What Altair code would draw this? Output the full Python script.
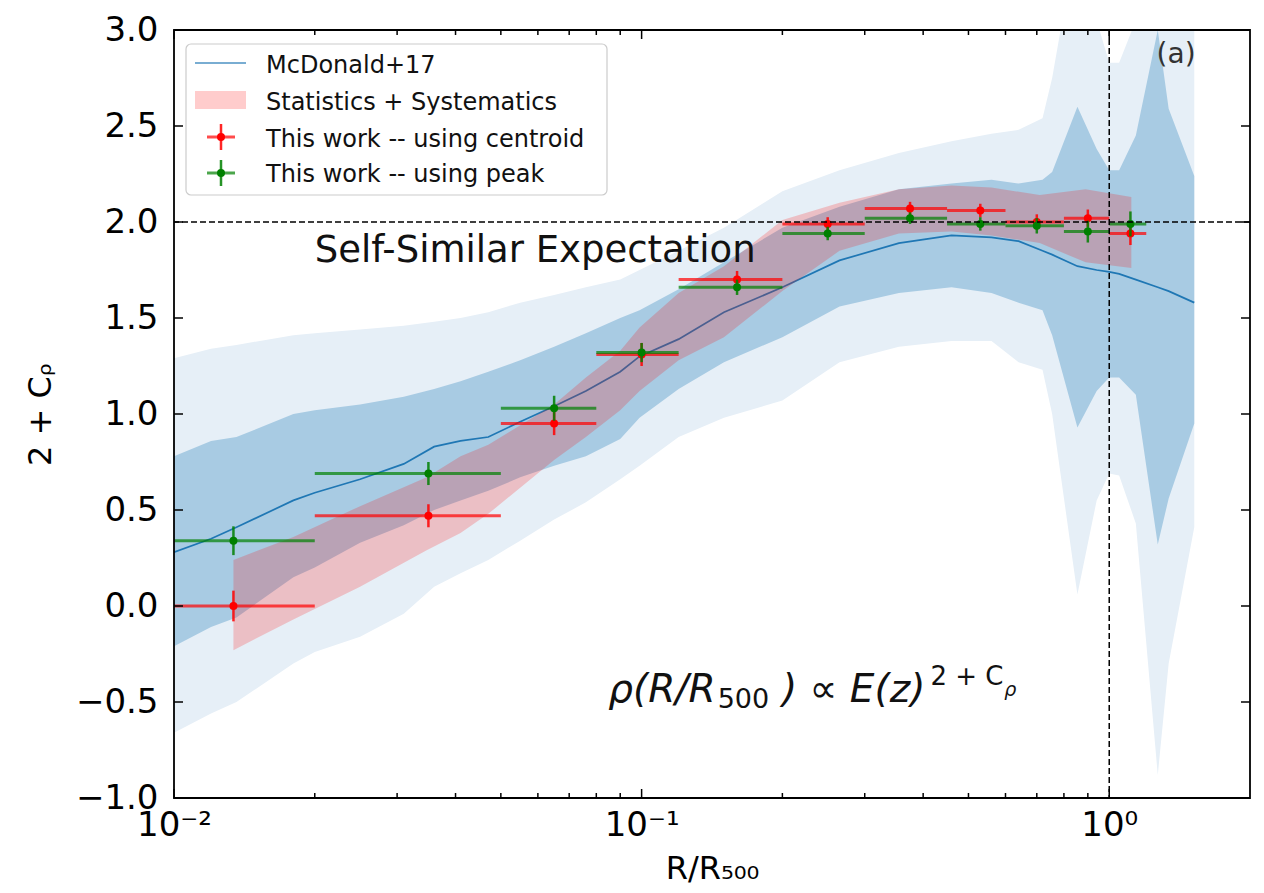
import altair as alt
import pandas as pd

# ---------------- data ----------------
# McDonald+17 model: median and two scatter bands
mc_x = [0.01, 0.012, 0.0136, 0.018, 0.020, 0.025, 0.031, 0.036, 0.041, 0.047, 0.055,
        0.065, 0.076, 0.09, 0.099, 0.12, 0.15, 0.20, 0.265, 0.355, 0.46, 0.56, 0.64,
        0.72, 0.755, 0.855, 0.94, 1.0, 1.05, 1.14, 1.27, 1.34, 1.52]
mc_mid = [0.28, 0.35, 0.41, 0.55, 0.59, 0.66, 0.74, 0.83, 0.86, 0.88, 0.96,
          1.04, 1.12, 1.22, 1.30, 1.39, 1.53, 1.66, 1.80, 1.89, 1.93, 1.92, 1.90,
          1.85, 1.83, 1.77, 1.75, 1.74, 1.73, 1.70, 1.66, 1.64, 1.58]
mc_dark_hi = [0.78, 0.86, 0.88, 1.00, 1.02, 1.05, 1.09, 1.13, 1.17, 1.22, 1.28,
              1.35, 1.42, 1.50, 1.54, 1.65, 1.79, 1.97, 2.08, 2.17, 2.20, 2.22, 2.20,
              2.22, 2.26, 2.60, 2.38, 2.27, 2.27, 2.45, 3.00, 2.59, 2.24]
mc_dark_lo = [-0.21, -0.11, -0.06, 0.15, 0.20, 0.33, 0.42, 0.50, 0.55, 0.60, 0.67,
              0.73, 0.78, 0.87, 0.98, 1.13, 1.27, 1.40, 1.56, 1.63, 1.66, 1.63, 1.58,
              1.54, 1.41, 0.93, 1.12, 1.19, 1.19, 1.10, 0.32, 0.56, 0.95]
mc_light_hi = [1.29, 1.34, 1.36, 1.41, 1.42, 1.44, 1.46, 1.48, 1.50, 1.53, 1.58,
               1.62, 1.66, 1.70, 1.75, 1.85, 1.97, 2.16, 2.27, 2.36, 2.42, 2.46, 2.48,
               2.54, 2.75, 3.50, 3.05, 2.83, 2.83, 3.05, 3.50, 3.50, 3.50]
mc_light_lo = [-0.66, -0.56, -0.50, -0.30, -0.24, -0.16, -0.04, 0.10, 0.17, 0.24, 0.34,
               0.45, 0.54, 0.66, 0.73, 0.88, 0.98, 1.07, 1.27, 1.35, 1.38, 1.38, 1.27,
               1.23, 1.00, 0.06, 0.55, 0.69, 0.68, 0.43, -0.88, -0.30, 0.41]

# Statistics + Systematics band
ss_x = [0.0134, 0.018, 0.025, 0.0347, 0.041, 0.047, 0.065, 0.076, 0.09, 0.099,
        0.12, 0.15, 0.20, 0.265, 0.355, 0.46, 0.56, 0.71, 0.89, 1.115]
ss_hi = [0.24, 0.36, 0.52, 0.67, 0.78, 0.84, 1.05, 1.19, 1.33, 1.45,
         1.63, 1.77, 2.01, 2.10, 2.17, 2.19, 2.18, 2.14, 2.17, 2.13]
ss_lo = [-0.23, -0.07, 0.10, 0.29, 0.38, 0.48, 0.76, 0.88, 1.02, 1.12,
         1.28, 1.40, 1.64, 1.85, 1.94, 1.95, 1.93, 1.89, 1.79, 1.76]

# This work: radial bins
bin_x = [0.0134, 0.035, 0.065, 0.10, 0.16, 0.25, 0.375, 0.53, 0.70, 0.90, 1.11]
bin_lo = [0.01, 0.02, 0.05, 0.08, 0.12, 0.20, 0.30, 0.45, 0.60, 0.80, 1.00]
bin_hi = [0.02, 0.05, 0.08, 0.12, 0.20, 0.30, 0.45, 0.60, 0.80, 1.00, 1.20]
centroid_y = [0.00, 0.47, 0.95, 1.31, 1.70, 1.99, 2.07, 2.06, 2.00, 2.02, 1.94]
centroid_err = [0.08, 0.06, 0.06, 0.06, 0.045, 0.035, 0.035, 0.035, 0.04, 0.045, 0.06]
peak_y = [0.34, 0.69, 1.03, 1.32, 1.66, 1.94, 2.02, 1.99, 1.98, 1.95, 1.99]
peak_err = [0.075, 0.06, 0.065, 0.05, 0.04, 0.035, 0.03, 0.035, 0.04, 0.057, 0.065]

legend_labels = ["McDonald+17", "Statistics + Systematics",
                 "This work -- using centroid", "This work -- using peak"]

x_major = [0.01, 0.1, 1.0]
x_minor = [0.02, 0.03, 0.04, 0.05, 0.06, 0.07, 0.08, 0.09,
           0.2, 0.3, 0.4, 0.5, 0.6, 0.7, 0.8, 0.9]
y_ticks = [-1.0, -0.5, 0.0, 0.5, 1.0, 1.5, 2.0, 2.5, 3.0]

# ---------------- styling ----------------
W, H = 1076, 768
FONT = "DejaVu Sans"
BLUE = "#1f77b4"
LIGHT = "#e6eff7"
DARK = "#a8cbe3"
INK = "#111111"

xs = alt.Scale(type="log", domain=[0.01, 2.0], nice=False)
ys = alt.Scale(domain=[-1.0, 3.0], nice=False, zero=False)


def X(f):
    return alt.X(f"{f}:Q", scale=xs)


def Y(f):
    return alt.Y(f"{f}:Q", scale=ys)


xaxis = alt.Axis(values=x_major,
                 labelExpr="datum.value < 0.05 ? '10\u207b\u00b2' : (datum.value < 0.5 ? '10\u207b\u00b9' : '10\u2070')",
                 ticks=False, domain=False, grid=False,
                 labelFont=FONT, labelFontSize=34, labelColor="black",
                 labelPadding=10, labelFlush=False, labelOverlap=False,
                 title="R/R\u2085\u2080\u2080", titleFont=FONT, titleFontSize=32,
                 titleFontWeight="normal", titleColor="black",
                 titleX=W / 2, titleY=80, titleBaseline="alphabetic", titleAlign="center")
yaxis = alt.Axis(values=y_ticks, format=".1f",
                 ticks=False, domain=False, grid=False,
                 labelFont=FONT, labelFontSize=34, labelColor="black",
                 labelPadding=16, labelOverlap=False,
                 title="2 + C\u1d68", titleFont=FONT, titleFontSize=32,
                 titleFontWeight="normal", titleColor="black",
                 titleX=-134, titleY=H / 2, titleBaseline="middle", titleAlign="center")

mc = pd.DataFrame({"x": mc_x, "mid": mc_mid, "dhi": mc_dark_hi, "dlo": mc_dark_lo,
                   "lhi": mc_light_hi, "llo": mc_light_lo})
ss = pd.DataFrame({"x": ss_x, "hi": ss_hi, "lo": ss_lo})

light = alt.Chart(mc).mark_area(color=LIGHT, clip=True).encode(
    x=alt.X("x:Q", scale=xs, axis=xaxis),
    y=alt.Y("lhi:Q", scale=ys, axis=yaxis),
    y2=alt.Y2("llo:Q"))
dark = alt.Chart(mc).mark_area(color=DARK, clip=True).encode(
    x=X("x"), y=Y("dhi"), y2=alt.Y2("dlo:Q"))
line = alt.Chart(mc).mark_line(color=BLUE, strokeWidth=1.7, clip=True).encode(
    x=X("x"), y=Y("mid"))
band = alt.Chart(ss).mark_area(color="red", opacity=0.2, clip=True).encode(
    x=X("x"), y=Y("hi"), y2=alt.Y2("lo:Q"))

layers = [light, dark, line, band]

for yv, ev, col in [(centroid_y, centroid_err, "red"), (peak_y, peak_err, "green")]:
    df = pd.DataFrame({"x": bin_x, "xlo": bin_lo, "xhi": bin_hi, "y": yv,
                       "ylo": [a - b for a, b in zip(yv, ev)],
                       "yhi": [a + b for a, b in zip(yv, ev)]})
    layers.append(alt.Chart(df).mark_rule(color=col, strokeWidth=3, opacity=0.7, clip=True)
                  .encode(x=X("xlo"), x2=alt.X2("xhi:Q"), y=Y("y")))
    layers.append(alt.Chart(df).mark_rule(color=col, strokeWidth=2.5, opacity=0.85, clip=True)
                  .encode(x=X("x"), y=Y("ylo"), y2=alt.Y2("yhi:Q")))
    layers.append(alt.Chart(df).mark_circle(color=col, size=64, opacity=1, clip=True)
                  .encode(x=X("x"), y=Y("y")))

# reference lines
layers.append(alt.Chart(pd.DataFrame({"y": [2.0]})).mark_rule(
    color="black", strokeWidth=1.5, strokeDash=[6, 3]).encode(y=Y("y")))
layers.append(alt.Chart(pd.DataFrame({"x": [1.0]})).mark_rule(
    color="black", strokeWidth=1.5, strokeDash=[6, 3]).encode(x=X("x")))

# inward ticks
ydf = pd.DataFrame({"v": y_ticks})
layers.append(alt.Chart(ydf).mark_rule(color="black", strokeWidth=1.5).encode(
    y=Y("v"), x=alt.value(0), x2=alt.value(9)))
layers.append(alt.Chart(ydf).mark_rule(color="black", strokeWidth=1.5).encode(
    y=Y("v"), x=alt.value(W - 9), x2=alt.value(W)))
for vals, ln in [(x_major, 9), (x_minor, 5)]:
    xdf = pd.DataFrame({"v": vals})
    layers.append(alt.Chart(xdf).mark_rule(color="black", strokeWidth=1.5).encode(
        x=X("v"), y=alt.value(H - ln), y2=alt.value(H)))
    layers.append(alt.Chart(xdf).mark_rule(color="black", strokeWidth=1.5).encode(
        x=X("v"), y=alt.value(0), y2=alt.value(ln)))

one = pd.DataFrame({"a": [0]})
# frame
layers.append(alt.Chart(one).mark_rect(filled=False, stroke="black", strokeWidth=1.8).encode(
    x=alt.value(0), x2=alt.value(W), y=alt.value(0), y2=alt.value(H)))


def note(x, y, t, size, align="left", style="normal", color=INK):
    d = pd.DataFrame({"x": [x], "y": [y], "t": [t]})
    return alt.Chart(d).mark_text(font=FONT, fontSize=size, align=align, fontStyle=style,
                                  baseline="alphabetic", color=color).encode(
        x=X("x"), y=Y("y"), text="t:N")


# annotations (positions in data units)
layers.append(note(0.02, 1.79, "Self-Similar Expectation", 37))
layers.append(note(0.1439, -0.50, "\u03c1(R/R", 39, align="right", style="italic"))
layers.append(note(0.1454, -0.531, "500", 27))
layers.append(note(0.4044, -0.50, ") \u221d E(z)", 39, align="right", style="italic"))
layers.append(note(0.4145, -0.41, "2 + C", 26))
layers.append(note(0.5965, -0.47, "\u03c1", 19, style="italic"))
layers.append(note(1.39, 2.83, "(a)", 28, align="center", color="#333333"))

# legend (drawn by hand so the error-bar handles match)
layers.append(alt.Chart(one).mark_rect(fill="white", fillOpacity=0.85, stroke="#cccccc",
                                       strokeWidth=1.2, cornerRadius=5).encode(
    x=alt.value(12), x2=alt.value(433), y=alt.value(14), y2=alt.value(165)))
layers.append(alt.Chart(one).mark_rule(color=BLUE, strokeWidth=2, opacity=0.6).encode(
    x=alt.value(21), x2=alt.value(72), y=alt.value(33)))
layers.append(alt.Chart(one).mark_rect(color="red", opacity=0.2).encode(
    x=alt.value(21), x2=alt.value(72), y=alt.value(61), y2=alt.value(79)))
for cy, col in [(107, "red"), (143, "green")]:
    layers.append(alt.Chart(one).mark_rule(color=col, strokeWidth=3, opacity=0.7).encode(
        x=alt.value(33), x2=alt.value(61), y=alt.value(cy)))
    layers.append(alt.Chart(one).mark_rule(color=col, strokeWidth=2.5, opacity=0.85).encode(
        x=alt.value(47), y=alt.value(cy - 13), y2=alt.value(cy + 13)))
    layers.append(alt.Chart(one).mark_circle(color=col, size=64, opacity=1).encode(
        x=alt.value(47), y=alt.value(cy)))
for lab, by in zip(legend_labels, [43, 80, 117, 152]):
    layers.append(alt.Chart(one).mark_text(font=FONT, fontSize=24, align="left",
                                           baseline="alphabetic", color=INK).encode(
        x=alt.value(92), y=alt.value(by), text=alt.value(lab)))

chart = alt.layer(*layers).properties(
    width=W, height=H,
    autosize=alt.AutoSizeParams(type="none"),
    padding={"left": 166, "top": 22, "right": 6, "bottom": 87},
    background="white",
).configure_view(stroke=None)

chart.save("out.html", embed_options={"renderer": "svg", "actions": False})
